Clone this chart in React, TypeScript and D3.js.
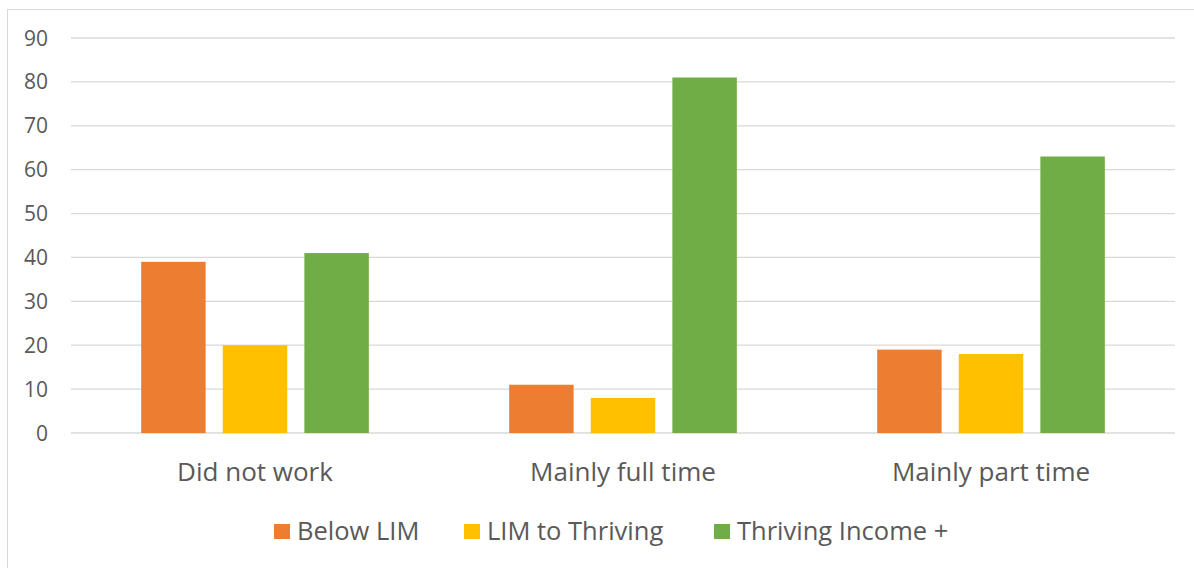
import { useEffect, useRef } from "react"
import * as d3 from "d3"

const categories = ["Did not work", "Mainly full time", "Mainly part time"]
const seriesNames = ["Below LIM", "LIM to Thriving", "Thriving Income +"]
const belowLim = [39, 11, 19]
const limToThriving = [20, 8, 18]
const thrivingPlus = [41, 81, 63]
const yTicks = [0, 10, 20, 30, 40, 50, 60, 70, 80, 90]
const colors = ["#ED7D31", "#FFC000", "#70AD47"]

export default function App() {
    const ref = useRef<SVGSVGElement>(null)

    useEffect(() => {
        const width = 1194
        const height = 568
        const margin = { top: 38, left: 71, right: 19, bottom: 135 }
        const font = "'Open Sans', sans-serif"
        const textColor = "#595959"

        const svg = d3.select(ref.current)
        svg.selectAll("*").remove()
        svg.attr("width", width).attr("height", height).attr("viewBox", `0 0 ${width} ${height}`)

        // chart frame
        svg.append("rect")
            .attr("x", 7.5).attr("y", 9.5)
            .attr("width", width).attr("height", height)
            .attr("fill", "white").attr("stroke", "#d9d9d9").attr("stroke-width", 1)

        const series = [belowLim, limToThriving, thrivingPlus]

        const x = d3.scaleBand().domain(categories).range([margin.left, width - margin.right])
        const inner = d3.scaleBand().domain(seriesNames).range([0, x.bandwidth()]).paddingInner(0.21).paddingOuter(0.86)
        const y = d3.scaleLinear().domain([0, 90]).range([height - margin.bottom, margin.top])

        const grid = svg.append("g")
        grid.selectAll("line").data(yTicks).join("line")
            .attr("x1", margin.left).attr("x2", width - margin.right)
            .attr("y1", d => y(d)).attr("y2", d => y(d))
            .attr("stroke", "#d9d9d9").attr("stroke-width", 1.3)

        svg.append("g").selectAll("text").data(yTicks).join("text")
            .attr("x", 48).attr("y", d => y(d))
            .attr("dy", "0.36em")
            .attr("text-anchor", "end")
            .attr("font-family", font).attr("font-size", 21)
            .attr("fill", textColor)
            .text(d => d)

        const bars = svg.append("g")
        seriesNames.forEach((name, si) => {
            bars.append("g").selectAll("rect").data(series[si]).join("rect")
                .attr("x", (_, i) => (x(categories[i]) ?? 0) + (inner(name) ?? 0))
                .attr("y", d => y(d))
                .attr("width", inner.bandwidth())
                .attr("height", d => y(0) - y(d))
                .attr("fill", colors[si])
        })

        svg.append("g").selectAll("text").data(categories).join("text")
            .attr("x", d => (x(d) ?? 0) + x.bandwidth() / 2)
            .attr("y", 472)
            .attr("dy", "0.36em")
            .attr("text-anchor", "middle")
            .attr("font-family", font).attr("font-size", 26)
            .attr("fill", textColor)
            .text(d => d)

        // legend
        const legendX = [274, 464, 714]
        const legend = svg.append("g")
        seriesNames.forEach((name, i) => {
            legend.append("rect")
                .attr("x", legendX[i]).attr("y", 524)
                .attr("width", 16).attr("height", 15)
                .attr("fill", colors[i])
            legend.append("text")
                .attr("x", legendX[i] + 23).attr("y", 531)
                .attr("dy", "0.36em")
                .attr("font-family", font).attr("font-size", 25.5)
                .attr("fill", textColor)
                .text(name)
        })
    })

    return (
        <svg ref={ref} style={{ position: "absolute", left: 0, top: 0 }}></svg>
    )
}
